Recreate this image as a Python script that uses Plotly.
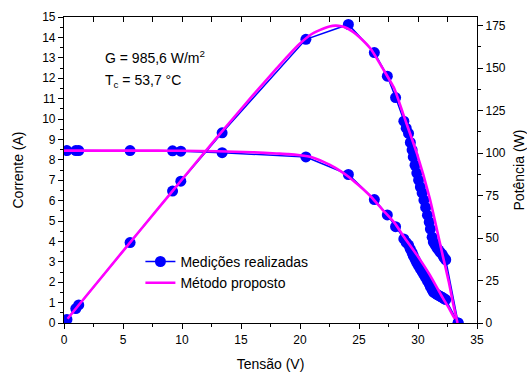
import plotly.graph_objects as go

# ---- measured data ----
V_meas = [0.25, 1.0, 1.25, 5.6, 9.2, 9.9, 13.4, 20.5, 24.1, 26.3, 27.4, 28.1, 28.8, 29.0, 29.2,
          29.35, 29.5, 29.6, 29.75, 29.9, 30.05, 30.2, 30.35, 30.5, 30.65, 30.8, 30.95, 31.05,
          31.2, 31.3, 31.45, 31.6, 31.75, 31.9, 32.05, 32.2, 32.35, 33.4]
I_meas = [8.45, 8.45, 8.45, 8.45, 8.44, 8.42, 8.35, 8.14, 7.28, 6.05, 5.3, 4.72, 4.12, 3.95, 3.82,
          3.62, 3.45, 3.3, 3.12, 2.95, 2.8, 2.65, 2.52, 2.37, 2.22, 2.06, 1.92, 1.78,
          1.62, 1.52, 1.46, 1.40, 1.35, 1.30, 1.26, 1.20, 1.15, 0.0]
P_meas = [2.1, 8.5, 10.6, 47.3, 77.6, 83.4, 111.9, 166.9, 175.6, 159.1, 145.2, 132.6, 118.7, 114.6, 111.5,
          106.2, 101.8, 97.7, 92.8, 88.2, 84.1, 80.0, 76.5, 72.3, 68.0, 63.4, 59.4, 55.3,
          50.5, 47.6, 45.9, 44.2, 42.9, 41.5, 40.4, 38.6, 37.2, 0.0]

# ---- proposed method (model) ----
V_model = [0, 2, 5, 8, 10, 13, 16, 18, 19, 20, 21, 22, 22.5, 23, 23.5, 24, 24.5, 25, 26, 27, 28, 28.8,
           29.9, 31.0, 32.1, 32.6, 33.0, 33.35]
I_model = [8.45, 8.45, 8.45, 8.45, 8.44, 8.42, 8.37, 8.31, 8.28, 8.22, 8.12, 7.9, 7.76, 7.6, 7.42, 7.22,
           6.98, 6.74, 6.2, 5.55, 4.92, 4.23, 3.34, 2.36, 1.23, 0.75, 0.32, 0.0]
VP_model = [0.3, 2, 5, 8, 10, 13, 16, 18, 19, 20, 21, 22, 22.5, 23, 23.5, 24, 24.5, 25, 26, 27, 28, 28.8,
            29.9, 31.0, 32.1, 32.6, 33.0, 33.35]
P_model = [2.5, 16.9, 42.3, 67.6, 84.4, 109.5, 133.9, 149.6, 157.3, 164.4, 170.0, 173.2, 174.4, 174.9, 174.6,
           173.4, 171.2, 168.4, 161.2, 149.9, 137.8, 121.8, 99.9, 73.2, 39.5, 24.5, 10.6, 0.0]

x_ticks = [0, 5, 10, 15, 20, 25, 30, 35]
yl_ticks = list(range(0, 16))
yr_ticks = [0, 25, 50, 75, 100, 125, 150, 175]

BLUE = "#0000FF"
MAG = "#FF00FF"
FONT = "Liberation Sans, Arial, sans-serif"

fig = go.Figure()
fig.add_trace(go.Scatter(x=V_meas, y=I_meas, mode="lines+markers", name="Medições realizadas",
                         line=dict(color=BLUE, width=1.5), marker=dict(color=BLUE, size=11),
                         legendgroup="m"))
fig.add_trace(go.Scatter(x=V_meas, y=P_meas, mode="lines+markers", name="Medições realizadas",
                         line=dict(color=BLUE, width=1.5), marker=dict(color=BLUE, size=11),
                         yaxis="y2", showlegend=False, legendgroup="m"))
fig.add_trace(go.Scatter(x=V_model, y=I_model, mode="lines", name="Método proposto",
                         line=dict(color=MAG, width=2.6, shape="spline", smoothing=0.5),
                         legendgroup="p"))
fig.add_trace(go.Scatter(x=VP_model, y=P_model, mode="lines", name="Método proposto",
                         line=dict(color=MAG, width=2.6, shape="spline", smoothing=0.5),
                         yaxis="y2", showlegend=False, legendgroup="p"))
# helper trace to activate the top (mirror) axis
fig.add_trace(go.Scatter(x=[None], y=[None], xaxis="x2", yaxis="y", showlegend=False,
                         hoverinfo="skip", mode="markers"))

axis_common = dict(showline=True, linecolor="black", linewidth=1.2, showgrid=False, zeroline=False,
                   tickfont=dict(family=FONT, size=12, color="black"), ticks="outside",
                   tickcolor="black", ticklen=5, tickwidth=1.2, automargin=False)

fig.update_layout(
    width=527, height=372,
    margin=dict(l=64, r=50, t=17, b=49),
    paper_bgcolor="white", plot_bgcolor="white",
    font=dict(family=FONT, size=14, color="black"),
    showlegend=True,
    legend=dict(x=0.185, y=0.252, xanchor="left", yanchor="top", bgcolor="rgba(0,0,0,0)",
                font=dict(family=FONT, size=14, color="black"), tracegroupgap=0, itemwidth=30),
    xaxis=dict(range=[0, 35], tickvals=x_ticks, ticktext=[str(v) for v in x_ticks],
               minor=dict(dtick=2.5, ticks="outside", ticklen=3, tickcolor="black", tickwidth=1.2),
               title=dict(text="Tensão (V)", font=dict(family=FONT, size=14)),
               **axis_common),
    xaxis2=dict(range=[0, 35], overlaying="x", side="top", showline=True, linecolor="black",
                linewidth=1.2, showgrid=False, zeroline=False, showticklabels=False,
                ticks="inside", dtick=2.5, tick0=0, ticklen=5, tickcolor="black", tickwidth=1.2,
                automargin=False),
    yaxis=dict(range=[0, 15], tickvals=yl_ticks, ticktext=[str(v) for v in yl_ticks],
               minor=dict(dtick=0.5, ticks="outside", ticklen=3, tickcolor="black", tickwidth=1.2),
               title=dict(text="Corrente (A)", font=dict(family=FONT, size=14)),
               **axis_common),
    yaxis2=dict(range=[0, 180], overlaying="y", side="right", tickvals=yr_ticks,
                ticktext=[str(v) for v in yr_ticks],
                minor=dict(dtick=12.5, ticks="outside", ticklen=3, tickcolor="black", tickwidth=1.2),
                title=dict(text="Potência (W)", font=dict(family=FONT, size=14)),
                **axis_common),
)

fig.add_annotation(x=0.095, y=0.868, xref="paper", yref="paper", xanchor="left", yanchor="middle",
                   text="G = 985,6 W/m<sup>2</sup>", showarrow=False,
                   font=dict(family=FONT, size=14, color="black"))
fig.add_annotation(x=0.095, y=0.79, xref="paper", yref="paper", xanchor="left", yanchor="middle",
                   text="T<sub>c</sub> = 53,7 °C", showarrow=False,
                   font=dict(family=FONT, size=14, color="black"))

fig.write_html("out.html", config={"displayModeBar": False},
               post_script="document.body.style.margin='0';document.body.style.padding='0';")
